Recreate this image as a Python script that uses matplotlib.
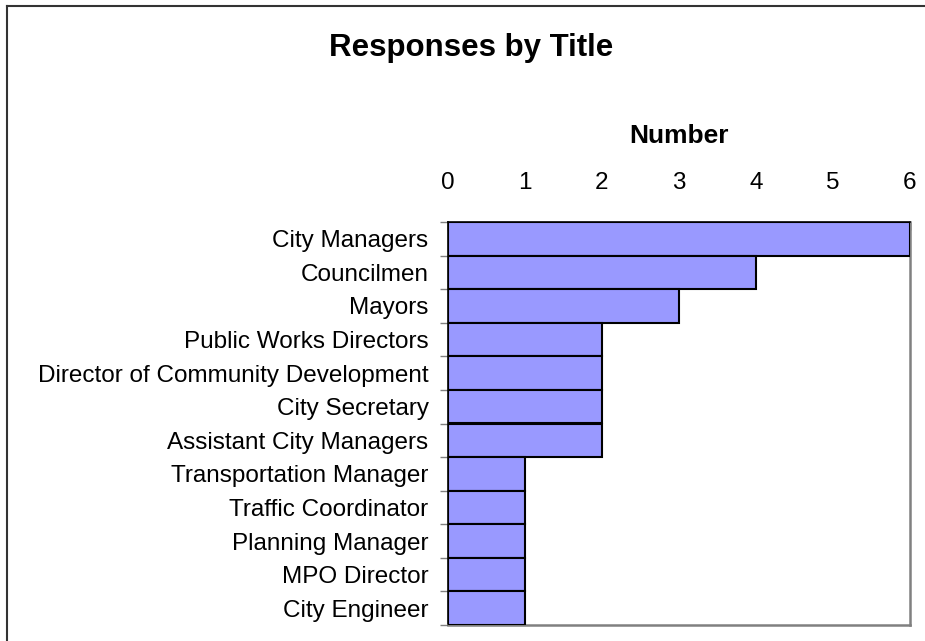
import matplotlib
matplotlib.use("Agg")
import matplotlib.pyplot as plt
from matplotlib.lines import Line2D
import numpy as np

plt.rcParams['font.family'] = ['Liberation Sans', 'DejaVu Sans']

titles = ["City Managers", "Councilmen", "Mayors", "Public Works Directors",
          "Director of Community Development", "City Secretary",
          "Assistant City Managers", "Transportation Manager",
          "Traffic Coordinator", "Planning Manager", "MPO Director",
          "City Engineer"]
counts = [6, 4, 3, 2, 2, 2, 2, 1, 1, 1, 1, 1]
x_ticks = [0, 1, 2, 3, 4, 5, 6]

W, H = 925, 641
fig = plt.figure(figsize=(W / 100, H / 100), dpi=100)
fig.patch.set_facecolor("white")

ax = fig.add_axes([448 / W, 1 - 625 / H, (910 - 448) / W, (625 - 222) / H])
y = np.arange(len(titles))
ax.barh(y, counts, height=1.0, color="#9999FF", edgecolor="black",
        linewidth=1.5, zorder=3)

ax.set_xlim(0, 6)
ax.set_ylim(len(titles) - 0.5, -0.5)

ax.xaxis.set_ticks_position("top")
ax.xaxis.set_label_position("top")
ax.set_xticks(x_ticks)
ax.set_xticklabels([str(v) for v in x_ticks], fontsize=17.5)
ax.tick_params(axis="x", direction="in", length=6, width=1, color="black",
               pad=20)
ax.set_xlabel("Number", fontsize=19, fontweight="bold", labelpad=21)

ax.set_yticks(y)
ax.set_yticklabels(titles, fontsize=17.5)
ax.tick_params(axis="y", length=0, pad=14)
ax.set_yticks(np.arange(len(titles) + 1) - 0.5, minor=True)
ax.tick_params(axis="y", which="minor", direction="out", length=6,
               width=1, color="#808080")

for side in ("top", "left"):
    ax.spines[side].set_color("black")
    ax.spines[side].set_linewidth(1.2)
for side in ("right", "bottom"):
    ax.spines[side].set_color("#808080")
    ax.spines[side].set_linewidth(1.8)

fig.text(471 / W, 1 - 48 / H, "Responses by Title", fontsize=22.5,
         fontweight="bold", ha="center", va="center")

# Outer chart-area border (top and left edges)
fig.add_artist(Line2D([7 / W, 1.0], [1 - 6 / H, 1 - 6 / H],
                      transform=fig.transFigure, color="#333333", lw=1.5))
fig.add_artist(Line2D([7 / W, 7 / W], [1 - 6 / H, 0.0],
                      transform=fig.transFigure, color="#333333", lw=1.5))

fig.savefig("out.png", dpi=100, facecolor="white")
